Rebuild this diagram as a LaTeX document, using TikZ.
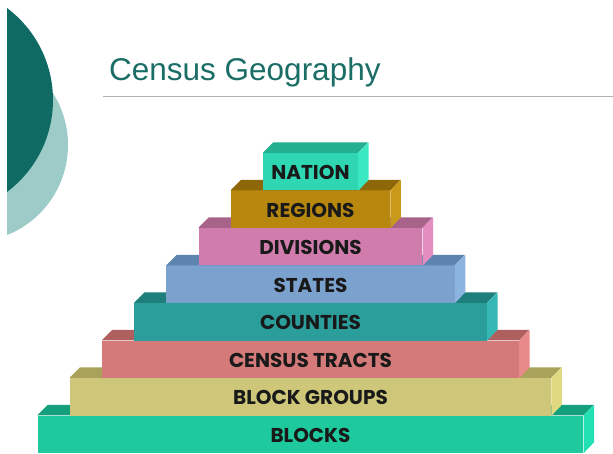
\documentclass[tikz,border=0pt]{standalone}
\usepackage{fontspec}
\setmainfont{Liberation Sans}
\newfontfamily\blockfont{Poppins}
\definecolor{titlecol}{HTML}{1B6E66}
\definecolor{darkcirc}{HTML}{0E6A63}
\definecolor{lightcirc}{HTML}{9DCBC8}
\definecolor{rulecol}{HTML}{B0B0B0}
% front / top / side colours
\definecolor{fA}{HTML}{1DC99D}\definecolor{tA}{HTML}{15A07D}\definecolor{sA}{HTML}{22E0B2}
\definecolor{fB}{HTML}{CEC77A}\definecolor{tB}{HTML}{A9A25A}\definecolor{sB}{HTML}{E0D982}
\definecolor{fC}{HTML}{D47A7A}\definecolor{tC}{HTML}{B05F5F}\definecolor{sC}{HTML}{E98A8A}
\definecolor{fD}{HTML}{2B9E9B}\definecolor{tD}{HTML}{1E7E7B}\definecolor{sD}{HTML}{35B8B5}
\definecolor{fE}{HTML}{7BA2CE}\definecolor{tE}{HTML}{5D84AE}\definecolor{sE}{HTML}{8BB4E0}
\definecolor{fF}{HTML}{D07DAE}\definecolor{tF}{HTML}{A86389}\definecolor{sF}{HTML}{E48DC0}
\definecolor{fG}{HTML}{B8880E}\definecolor{tG}{HTML}{8E6808}\definecolor{sG}{HTML}{C99A1A}
\definecolor{fH}{HTML}{2ED6B2}\definecolor{tH}{HTML}{22B090}\definecolor{sH}{HTML}{3AE8C2}
\tikzset{
  frontface/.style={inner sep=0pt, minimum height=37.5pt, text height=16pt, text depth=0pt,
    font=\blockfont\bfseries\fontsize{20}{24}\selectfont, text=black!90},
}
\begin{document}
\begin{tikzpicture}[x=1pt,y=-1pt]
\useasboundingbox (0,0) rectangle (613,454);
\fill[white] (0,0) rectangle (613,454);
% decorative circles
\begin{scope}
\clip (7,0) rectangle (613,454);
\fill[lightcirc] (-29,145) circle (97);
\fill[darkcirc] (-62,100) circle (115);
\end{scope}
% title and rule
\node[anchor=base west, inner sep=0pt, text=titlecol, font=\fontsize{31.5}{38}\selectfont] (title) at (109,81) {Census Geography};
\coordinate (ruleL) at (103,96.5);
\coordinate (ruleR) at (613,96.5);
\draw[rulecol, line width=1.8pt] (ruleL) -- (ruleR);
% pyramid
\foreach \k/\hw/\lab/\c in {1/272.9/BLOCKS/A, 2/240.7/BLOCK GROUPS/B, 3/208.5/CENSUS TRACTS/C,
  4/176.3/COUNTIES/D, 5/144.1/STATES/E, 6/111.9/DIVISIONS/F, 7/79.7/REGIONS/G, 8/47.5/NATION/H}{
  \pgfmathsetmacro{\cy}{453-37.5*(\k-1)-18.75}
  \pgfmathsetmacro{\bw}{2*\hw}
  \node[frontface, minimum width=\bw pt, fill=f\c] (b\k) at (310.5,\cy) {\lab};
  \fill[t\c] (b\k.north west) -- ++(10.5,-10.5) -- ++(\bw,0) -- (b\k.north east) -- cycle;
  \fill[s\c] (b\k.north east) -- ++(10.5,-10.5) -- ++(0,37.5) -- (b\k.south east) -- cycle;
}
\end{tikzpicture}
\end{document}
